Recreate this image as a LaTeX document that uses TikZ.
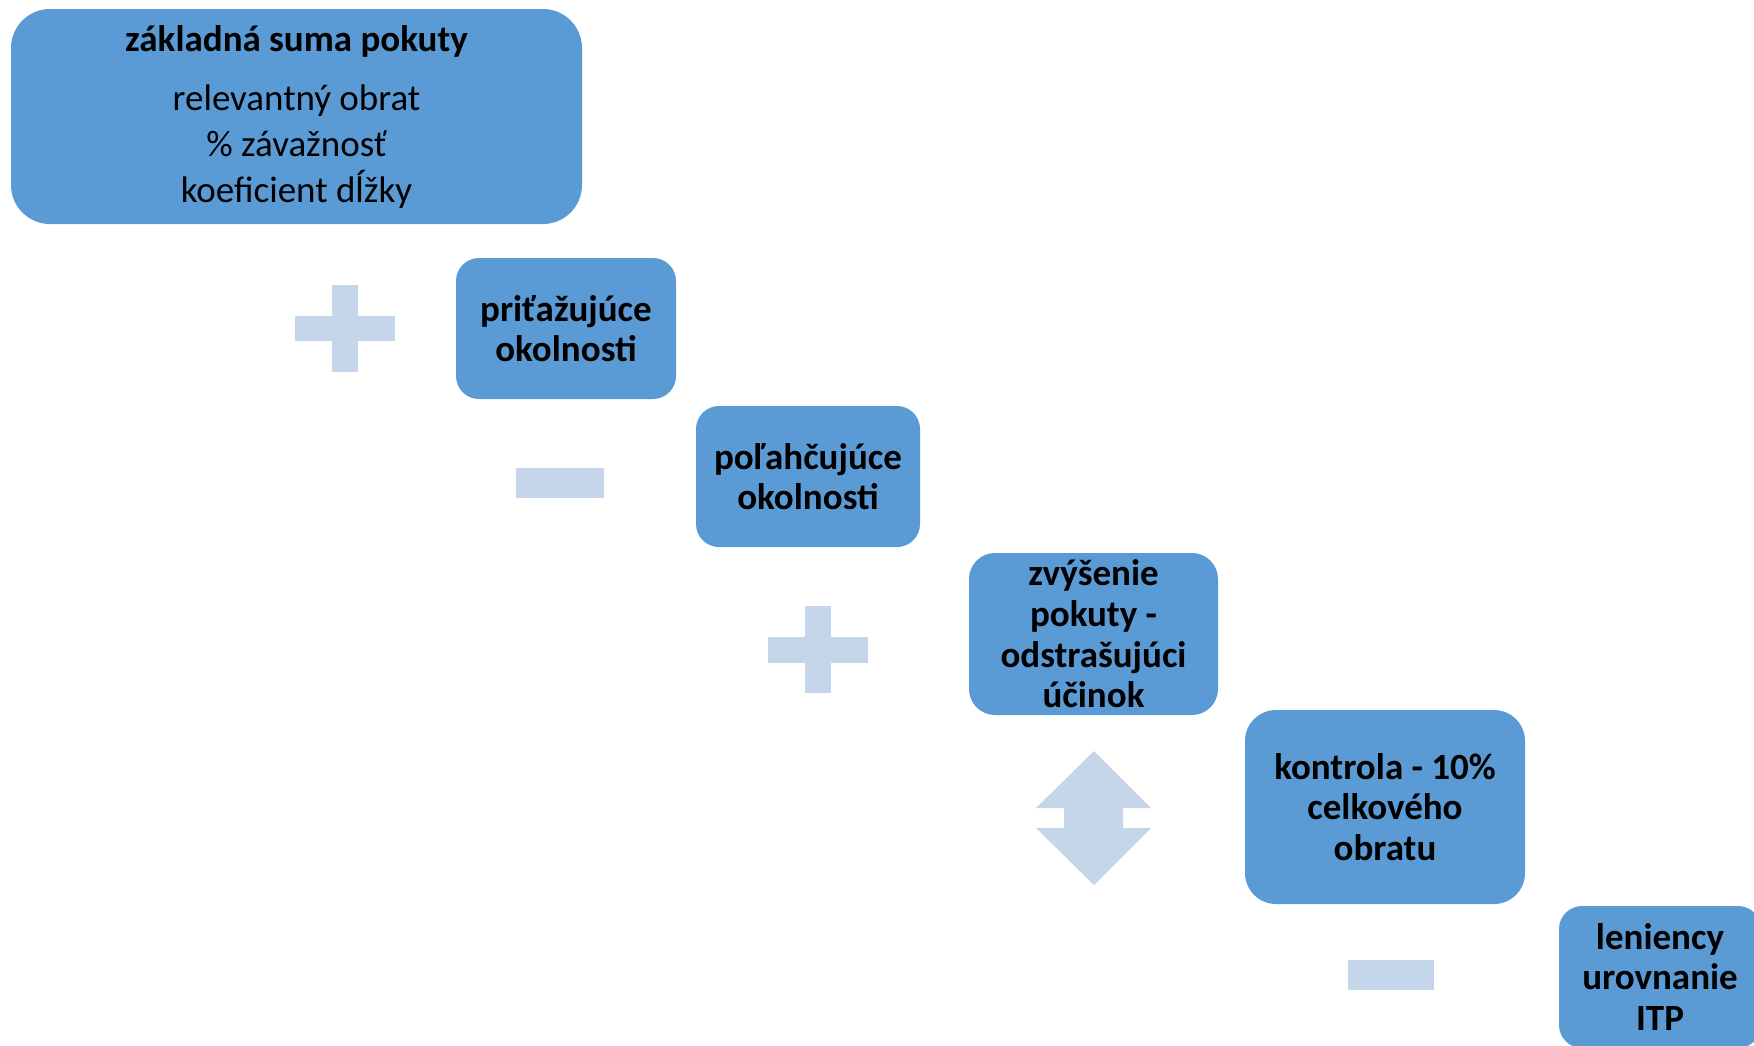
\documentclass[tikz,border=0pt]{standalone}
\usepackage{fontspec}
\setmainfont{Carlito}
\definecolor{boxblue}{HTML}{5B9BD5}
\definecolor{symblue}{HTML}{C5D5EA}
\begin{document}
\begin{tikzpicture}[x=1pt,y=-1pt,
  stepbox/.style={fill=boxblue,draw=none,rounded corners=#1,align=center,inner sep=0pt,
    font=\fontsize{37}{40.6}\selectfont\bfseries},
  stepbox/.default=23pt,
  symb/.style={fill=symblue,draw=none}]
\useasboundingbox (0,0) rectangle (1754,1045);
\fill[white] (0,0) rectangle (1754,1045);
% boxes
\node[stepbox=39pt,minimum width=571pt,minimum height=215pt] (base) at (296.5,116.5)
  {základná suma pokuty\\[18.4pt]
   \mdseries relevantný obrat\\[5.4pt] \mdseries\% závažnosť\\[5.4pt] \mdseries koeficient dĺžky};
\node[stepbox,minimum width=220pt,minimum height=141pt] (prit) at (566,328.5)
  {priťažujúce\\okolnosti};
\node[stepbox,minimum width=224pt,minimum height=141pt] (polah) at (808,476.5)
  {poľahčujúce\\okolnosti};
\node[stepbox=26pt,minimum width=249pt,minimum height=162pt] (zvys) at (1093.5,634)
  {zvýšenie\\pokuty -\\odstrašujúci\\účinok};
\node[stepbox=31pt,minimum width=280pt,minimum height=194pt] (kontr) at (1385,807)
  {kontrola - 10\%\\celkového\\obratu};
\node[stepbox,minimum width=202pt,minimum height=142pt] (len) at (1660,977)
  {leniency\\urovnanie\\ITP};
% symbols
\fill[symb] (295,316) rectangle (395,341);
\fill[symb] (332,285) rectangle (358,372);
\fill[symb] (516,468) rectangle (604,498);
\fill[symb] (768,637) rectangle (868,663);
\fill[symb] (805,606) rectangle (831,693);
\fill[symb] (1094,751) -- (1151,808) -- (1123,808) -- (1123,828) -- (1151,828)
  -- (1094,885) -- (1036,828) -- (1064,828) -- (1064,808) -- (1036,808) -- cycle;
\fill[symb] (1348,960) rectangle (1434,990);
\end{tikzpicture}
\end{document}
